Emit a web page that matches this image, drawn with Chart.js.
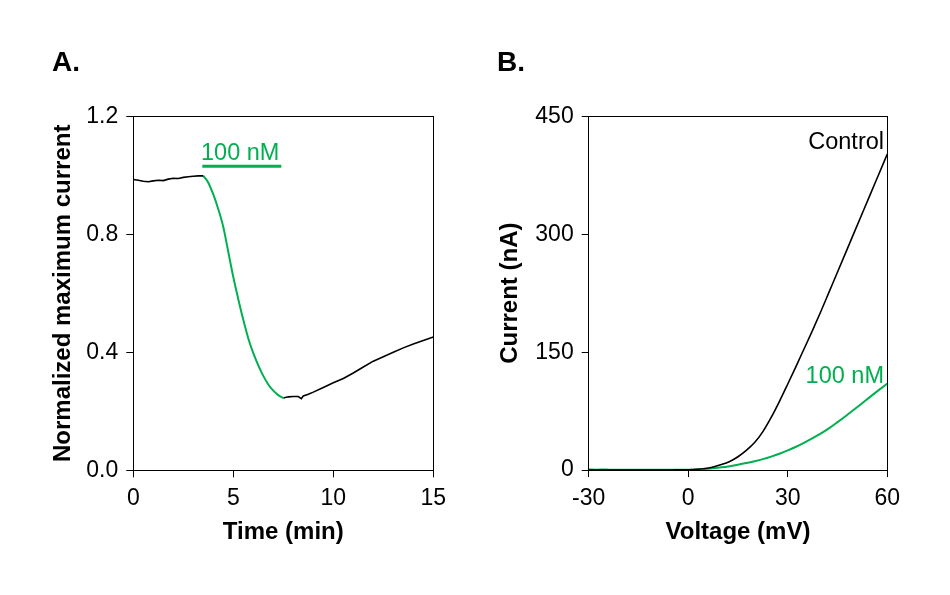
<!DOCTYPE html>
<html>
<head>
<meta charset="utf-8">
<script src="https://cdn.jsdelivr.net/npm/chart.js@4.4.1/dist/chart.umd.min.js"></script>
<style>
  html, body { margin: 0; padding: 0; background: #fff; }
  #wrap { position: relative; width: 950px; height: 595px; }
  canvas { position: absolute; left: 0; top: 0; }
</style>
</head>
<body>
<div id="wrap">
  <canvas id="panelA" width="950" height="595"></canvas>
  <canvas id="panelB" width="950" height="595"></canvas>
</div>
<script>
// Panel A: corriente máxima normalizada frente al tiempo
const tiempoBase = [0, 0.25, 0.5, 0.75, 1, 1.25, 1.5, 1.75, 2, 2.25, 2.5, 2.75, 3, 3.25, 3.5];
const corrienteBase = [0.986, 0.983, 0.980, 0.978, 0.981, 0.983, 0.982, 0.987, 0.990, 0.989, 0.993, 0.995, 0.997, 0.998, 0.998];

const tiempoDroga = [3.5, 3.75, 4, 4.25, 4.5, 4.75, 5, 5.25, 5.5, 5.75, 6, 6.25, 6.5, 6.75, 7, 7.25, 7.5];
const corrienteDroga = [0.998, 0.975, 0.935, 0.885, 0.825, 0.74, 0.655, 0.58, 0.51, 0.447, 0.397, 0.356, 0.32, 0.291, 0.27, 0.255, 0.245];

const tiempoLavado = [7.5, 7.75, 8, 8.25, 8.4, 8.5, 8.75, 9, 9.5, 10, 10.5, 11, 11.5, 12, 12.5, 13, 13.5, 14, 14.5, 15];
const corrienteLavado = [0.245, 0.249, 0.250, 0.250, 0.243, 0.252, 0.258, 0.265, 0.281, 0.297, 0.311, 0.330, 0.350, 0.370, 0.385, 0.400, 0.415, 0.428, 0.440, 0.452];

const tiempoBarra = [3.45, 7.4];   // periodo de aplicación de 100 nM
const nivelBarra = [1.031, 1.031];

const ticksTiempo = [0, 5, 10, 15];
const ticksNormal = [0.0, 0.4, 0.8, 1.2];

// Panel B: corriente frente al voltaje
const voltaje = [-30, -27.5, -25, -22.5, -20, -17.5, -15, -12.5, -10, -7.5, -5, -2.5, 0, 2.5, 5, 7.5, 10, 12.5, 15, 17.5, 20, 22.5, 25, 27.5, 30, 32.5, 35, 37.5, 40, 42.5, 45, 47.5, 50, 52.5, 55, 57.5, 60];
const corrienteControl = [0, 0, 0, 0, 0, 0, 0, 0, 0, 0, 0.2, 0.3, 0.5, 1, 2, 4, 7, 11, 17, 25, 35, 49, 67, 87.5, 109.5, 132, 155, 178, 202, 227, 252, 277, 302, 327, 352, 377, 402];
const corriente100nM = [0.8, 0.6, 0.7, 0.5, 0.6, 0.4, 0.5, 0.3, 0.4, 0.3, 0.4, 0.3, 0.4, 0.8, 1.5, 2.4, 3.5, 5, 6.8, 8.9, 11.3, 14, 17.2, 20.8, 25, 29.7, 35, 40.6, 46.6, 53.4, 61, 68.8, 77, 85.4, 93.8, 102, 110];

const ticksVoltaje = [-30, 0, 30, 60];
const ticksCorriente = [0, 150, 300, 450];

const verde = '#00B050';
const fuente = "'Liberation Sans', Arial, sans-serif";

const aPuntos = (xs, ys) => xs.map((x, i) => ({ x: x, y: ys[i] }));
const alinear = p => Math.round(p - 0.5) + 0.5; // misma regla que usa Chart.js para líneas de 1px

// Marco completo y textos sueltos del panel
const marcoYTextos = {
  id: 'marcoYTextos',
  afterDraw(chart, args, opts) {
    const { ctx, chartArea: a } = chart;
    ctx.save();
    ctx.strokeStyle = '#000';
    ctx.lineWidth = 1;
    const x0 = alinear(a.left), x1 = alinear(a.right);
    const y0 = alinear(a.top), y1 = alinear(a.bottom);
    ctx.strokeRect(x0, y0, x1 - x0, y1 - y0);
    (opts.textos || []).forEach(t => {
      ctx.font = t.font;
      ctx.fillStyle = t.color;
      ctx.textAlign = t.align || 'left';
      ctx.textBaseline = 'middle';
      ctx.fillText(t.text, t.x, t.y);
    });
    ctx.restore();
  }
};

function fijarAncho(w) { return s => { s.width = w; s.paddingTop = 0; s.paddingBottom = 0; }; }
function fijarAlto(h) { return s => { s.height = h; s.paddingLeft = 0; s.paddingRight = 0; }; }

function escala(min, max, valores, titulo, fit, formato) {
  return {
    type: 'linear',
    min: min,
    max: max,
    afterBuildTicks: s => { s.ticks = valores.map(v => ({ value: v })); },
    ticks: {
      color: '#000',
      font: { family: fuente, size: 23 },
      padding: 8,
      maxRotation: 0,
      autoSkip: false,
      callback: formato
    },
    grid: { drawOnChartArea: false, drawTicks: true, tickLength: 7, color: '#000' },
    border: { display: true, color: '#000', width: 1 },
    title: {
      display: true,
      text: titulo,
      color: '#000',
      padding: 0,
      font: { family: fuente, size: 24, weight: 'bold' }
    },
    afterFit: fit
  };
}

new Chart(document.getElementById('panelA'), {
  type: 'line',
  data: {
    datasets: [
      { data: aPuntos(tiempoBase, corrienteBase), borderColor: '#000', borderWidth: 1.6 },
      { data: aPuntos(tiempoDroga, corrienteDroga), borderColor: verde, borderWidth: 2, cubicInterpolationMode: 'monotone' },
      { data: aPuntos(tiempoLavado, corrienteLavado), borderColor: '#000', borderWidth: 1.6 },
      { data: aPuntos(tiempoBarra, nivelBarra), borderColor: verde, borderWidth: 3 }
    ]
  },
  options: {
    responsive: false,
    animation: false,
    events: [],
    elements: { point: { radius: 0 }, line: { tension: 0 } },
    layout: { padding: { left: 48.6, right: 516.7, top: 116.3, bottom: 48.6 } },
    plugins: {
      legend: { display: false },
      tooltip: { enabled: false },
      marcoYTextos: {
        textos: [
          { text: 'A.', x: 52, y: 63, color: '#000', font: 'bold 28px ' + fuente },
          { text: '100 nM', x: 201, y: 154, color: verde, font: '23.5px ' + fuente }
        ]
      }
    },
    scales: {
      x: escala(0, 15, ticksTiempo, 'Time (min)', fijarAlto(76.1), v => v),
      y: escala(0, 1.2, ticksNormal, 'Normalized maximum current', fijarAncho(84.7), v => v.toFixed(1))
    }
  },
  plugins: [marcoYTextos]
});

new Chart(document.getElementById('panelB'), {
  type: 'line',
  data: {
    datasets: [
      { data: aPuntos(voltaje, corrienteControl), borderColor: '#000', borderWidth: 1.6 },
      { data: aPuntos(voltaje, corriente100nM), borderColor: verde, borderWidth: 2 }
    ]
  },
  options: {
    responsive: false,
    animation: false,
    events: [],
    elements: { point: { radius: 0 }, line: { cubicInterpolationMode: 'monotone' } },
    layout: { padding: { left: 495.8, right: 62.7, top: 116.3, bottom: 47.8 } },
    plugins: {
      legend: { display: false },
      tooltip: { enabled: false },
      marcoYTextos: {
        textos: [
          { text: 'B.', x: 497, y: 63, color: '#000', font: 'bold 28px ' + fuente },
          { text: 'Control', x: 884, y: 143, color: '#000', font: '23.5px ' + fuente, align: 'right' },
          { text: '100 nM', x: 884, y: 377, color: verde, font: '23.5px ' + fuente, align: 'right' }
        ]
      }
    },
    scales: {
      x: escala(-30, 60, ticksVoltaje, 'Voltage (mV)', fijarAlto(77.1), v => v),
      y: escala(0, 450, ticksCorriente, 'Current (nA)', fijarAncho(92.9), v => v)
    }
  },
  plugins: [marcoYTextos]
});
</script>
</body>
</html>
